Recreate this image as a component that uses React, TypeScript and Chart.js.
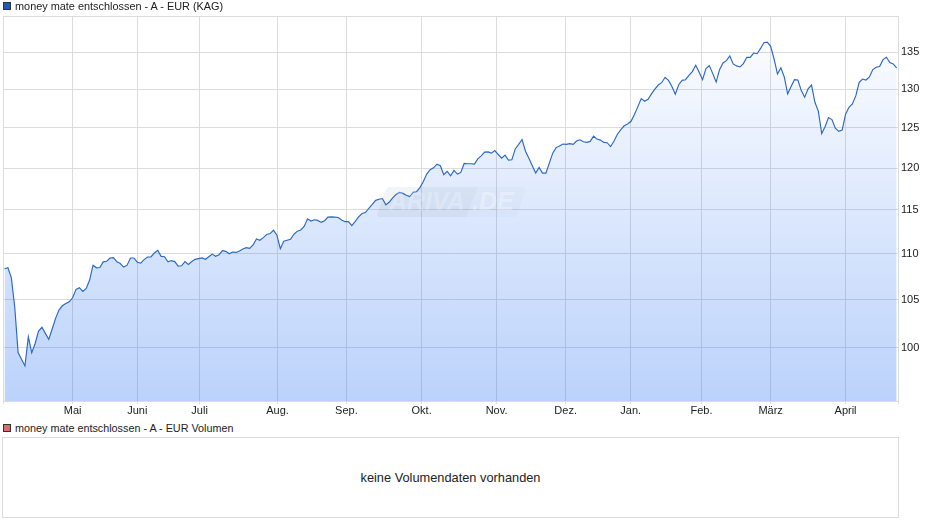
import React, { useEffect, useRef } from 'react';
import Chart from 'chart.js/auto';

const fundTitle = 'money mate entschlossen - A - EUR (KAG)';
const volumeTitle = 'money mate entschlossen - A - EUR Volumen';
const noVolumeText = 'keine Volumendaten vorhanden';

// daily fund price
const fundValues = [
  108.33, 108.44, 107.36, 104.24, 99.51, 98.82, 98.16, 101.11, 99.48, 100.42, 101.7, 102.09, 101.46, 100.84, 101.91,
  103.02, 103.89, 104.34, 104.58, 104.76, 105.19, 106.09, 106.27, 105.87, 106.2, 107.1, 108.73, 108.44, 108.48, 109.1,
  109.17, 109.53, 109.57, 109.1, 108.91, 108.52, 108.73, 109.53, 109.53, 109.06, 108.95, 109.35, 109.64, 109.64, 110.08,
  110.38, 109.71, 109.67, 109.1, 109.24, 109.13, 108.62, 108.66, 109.13, 108.81, 109.13, 109.38, 109.46, 109.53, 109.38,
  109.67, 109.96, 109.71, 109.89, 110.34, 110.27, 110.0, 110.19, 110.15, 110.3, 110.53, 110.68, 110.61, 110.99, 111.67,
  111.52, 111.82, 112.17, 112.28, 112.66, 112.09, 110.57, 111.41, 111.52, 111.63, 112.2, 112.55,
  112.69, 113.1, 113.98, 113.71, 113.86, 113.79, 113.56, 113.75, 114.17, 114.2, 114.17, 114.13, 113.83, 113.64, 113.64,
  113.18, 113.67, 114.2, 114.58, 114.7, 115.2, 115.65, 116.13, 116.26, 116.34, 115.6, 115.93, 116.42, 116.83, 117.07,
  116.95, 116.74, 116.58, 117.07, 117.15, 117.64, 118.37, 119.27, 119.8, 120.03, 120.48, 120.28, 119.19, 119.59, 119.06,
  119.72, 119.27, 119.47, 120.56, 120.52, 120.52, 120.48, 121.13, 121.5, 121.95, 121.99, 121.83, 122.15, 121.66, 121.21,
  121.58, 120.97, 121.01, 122.35, 122.92, 123.53, 122.07, 121.21, 120.28, 119.39, 120.08, 119.39, 119.39, 120.6, 121.83,
  122.52, 122.72, 122.96, 122.92, 123.01, 122.92, 123.33, 123.49, 123.25, 123.17, 123.29, 123.94, 123.58,
  123.45, 123.17, 123.13, 122.64, 123.33, 124.19, 124.76, 125.26, 125.48, 125.83, 126.71, 127.72, 128.77, 128.42, 128.68,
  129.39, 130.0, 130.55, 130.86, 131.58, 131.17, 130.36, 129.34, 130.59, 131.17, 131.26, 131.85, 132.34, 133.2, 132.25,
  131.26, 132.75, 133.15, 132.07, 130.95, 132.61, 133.51, 133.83, 134.46, 133.38, 133.11, 132.97, 133.42, 134.28, 134.28,
  134.86, 134.77, 135.46, 136.28, 136.37, 135.78, 134.05, 132.03, 132.84, 131.62, 129.39, 130.36, 131.26, 131.22, 129.82,
  128.95, 130.05, 130.55, 128.29, 127.15, 124.27, 125.17, 126.31, 126.05, 124.96, 124.55, 124.72, 126.75, 127.63, 128.07,
  129.12, 130.9, 131.35, 131.22, 131.62, 132.61, 132.93, 133.02, 133.96, 134.28, 133.56, 133.38, 132.84,
];

const monthLabels = ['Mai', 'Juni', 'Juli', 'Aug.', 'Sep.', 'Okt.', 'Nov.', 'Dez.', 'Jan.', 'Feb.', 'März', 'April'];
// position of the first trading day of each month in fundValues
const monthStarts = [20, 39, 57.3, 80.2, 100.4, 122.5, 144.5, 164.8, 183.9, 204.7, 225, 247];
const priceTicks = [100, 105, 110, 115, 120, 125, 130, 135];

const xMin = -0.44;
const xMax = 262.4;
const yMin = 94.726;
const yMax = 140.03;

const font = { family: '"Liberation Sans", Arial, sans-serif', size: 11 };
const gridColor = '#dcdcdc';

// faint site logo over the plot
const watermark = {
  id: 'watermark',
  afterDatasetsDraw(chart: Chart) {
    const { ctx } = chart;
    ctx.save();
    ctx.beginPath();
    ctx.moveTo(388, 187);
    ctx.lineTo(478, 187);
    ctx.lineTo(466, 217);
    ctx.lineTo(380, 217);
    ctx.quadraticCurveTo(376, 217, 378, 212);
    ctx.lineTo(385, 191);
    ctx.closePath();
    ctx.fillStyle = 'rgba(90, 100, 120, 0.07)';
    ctx.fill();
    ctx.beginPath();
    ctx.moveTo(478, 187);
    ctx.lineTo(522, 187);
    ctx.quadraticCurveTo(526, 187, 525, 191);
    ctx.lineTo(518, 213);
    ctx.quadraticCurveTo(516, 217, 512, 217);
    ctx.lineTo(466, 217);
    ctx.closePath();
    ctx.fillStyle = 'rgba(120, 130, 150, 0.04)';
    ctx.fill();
    ctx.font = 'italic bold 25px "Liberation Sans", Arial, sans-serif';
    ctx.textBaseline = 'middle';
    ctx.fillStyle = 'rgba(255, 255, 255, 0.22)';
    ctx.fillText('ARIVA', 389, 203);
    ctx.fillStyle = 'rgba(255, 255, 255, 0.3)';
    ctx.fillText('.DE', 472, 203);
    ctx.restore();
  },
};

const Marker = ({ top, color }: { top: number; color: string }) => (
  <div
    style={{
      position: 'absolute',
      left: 3,
      top,
      width: 6,
      height: 6,
      background: color,
      border: '1px solid #333',
    }}
  />
);

const Title = ({ top, text, size }: { top: number; text: string; size: number }) => (
  <div
    style={{
      position: 'absolute',
      left: 15,
      top,
      font: `${size}px "Liberation Sans", Arial, sans-serif`,
      lineHeight: '13px',
      color: '#222',
      whiteSpace: 'nowrap',
    }}
  >
    {text}
  </div>
);

const App: React.FC = () => {
  const canvasRef = useRef<HTMLCanvasElement>(null);

  useEffect(() => {
    if (!canvasRef.current) return;

    const chart = new Chart(canvasRef.current, {
      type: 'line',
      data: {
        datasets: [
          {
            label: fundTitle,
            data: fundValues.map((y, x) => ({ x, y })),
            borderColor: '#2c68c2',
            borderWidth: 1.15,
            tension: 0,
            pointRadius: 0,
            fill: 'start',
            backgroundColor: (context: any) => {
              const area = context.chart.chartArea;
              if (!area) return 'transparent';
              const gradient = context.chart.ctx.createLinearGradient(0, area.top, 0, area.bottom);
              gradient.addColorStop(0, 'rgba(20, 100, 240, 0)');
              gradient.addColorStop(1, 'rgba(20, 100, 240, 0.29)');
              return gradient;
            },
          },
        ],
      },
      options: {
        responsive: false,
        animation: false,
        layout: { padding: { left: 3, top: 16, right: 0, bottom: 0 } },
        plugins: { legend: { display: false }, tooltip: { enabled: false } },
        scales: {
          x: {
            type: 'linear',
            min: xMin,
            max: xMax,
            border: { display: false },
            grid: { color: gridColor, tickLength: 3 },
            afterBuildTicks: (scale: any) => {
              scale.ticks = [xMin, ...monthStarts, xMax].map((value) => ({ value }));
            },
            afterFit: (scale: any) => {
              scale.height = 19;
            },
            ticks: {
              autoSkip: false,
              maxRotation: 0,
              padding: 0,
              color: '#222',
              font,
              callback: (value: any) => {
                const i = monthStarts.indexOf(value);
                return i >= 0 ? monthLabels[i] : '';
              },
            },
          },
          y: {
            type: 'logarithmic',
            position: 'right',
            min: yMin,
            max: yMax,
            border: { display: false },
            grid: { color: gridColor, drawTicks: false },
            afterBuildTicks: (scale: any) => {
              scale.ticks = [yMin, ...priceTicks, yMax].map((value) => ({ value }));
            },
            afterFit: (scale: any) => {
              scale.width = 42;
            },
            ticks: {
              autoSkip: false,
              padding: 3,
              color: '#222',
              font,
              callback: (value: any) => (priceTicks.includes(value) ? String(value) : ''),
            },
          },
        },
      },
      plugins: [watermark],
    });

    return () => {
      chart.destroy();
    };
  }, []);

  return (
    <div style={{ position: 'absolute', left: 0, top: 0, width: 940, height: 526, background: '#fff' }}>
      <canvas ref={canvasRef} width={940} height={420} style={{ position: 'absolute', left: 0, top: 0 }} />
      <Marker top={2} color="#1a5bb8" />
      <Title top={0} text={fundTitle} size={10.9} />
      <Marker top={424} color="#d96c6c" />
      <Title top={422} text={volumeTitle} size={10.8} />
      <div
        style={{
          position: 'absolute',
          left: 2,
          top: 437,
          width: 895,
          height: 79,
          border: `1px solid ${gridColor}`,
          display: 'flex',
          alignItems: 'center',
          justifyContent: 'center',
          font: '12.8px "Liberation Sans", Arial, sans-serif',
          color: '#222',
        }}
      >
        {noVolumeText}
      </div>
    </div>
  );
};

export default App;
